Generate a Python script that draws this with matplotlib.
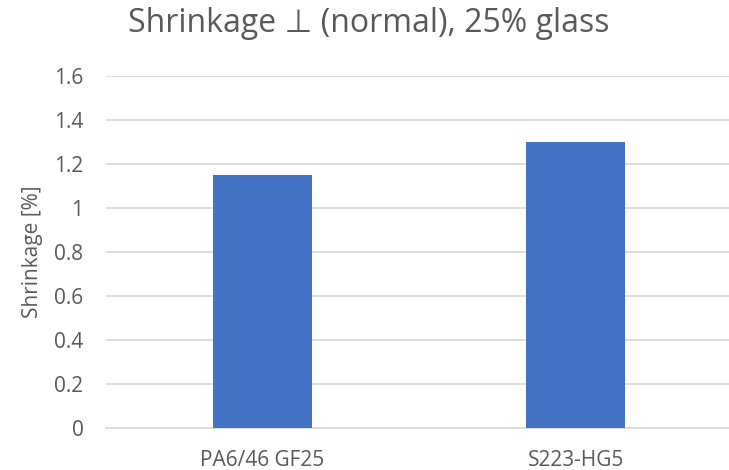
import matplotlib
matplotlib.use("Agg")
import matplotlib.pyplot as plt

categories = ["PA6/46 GF25", "S223-HG5"]
values = [1.15, 1.30]
yticks = [0, 0.2, 0.4, 0.6, 0.8, 1, 1.2, 1.4, 1.6]
ytick_labels = ["0", "0.2", "0.4", "0.6", "0.8", "1", "1.2", "1.4", "1.6"]

plt.rcParams['font.family'] = ['Open Sans', 'DejaVu Sans']

fig = plt.figure(figsize=(7.29, 4.70), dpi=100)
ax = fig.add_axes([0.145, 0.0894, 0.860, 0.7486])

x = list(range(len(categories)))
ax.bar(x, values, width=0.316, color="#4472C4", zorder=3)

ax.set_xlim(-0.5, 1.5)
ax.set_ylim(0, 1.6)
ax.set_yticks(yticks)
ax.set_yticklabels(ytick_labels)
ax.set_xticks(x)
ax.set_xticklabels(categories)

ax.grid(axis='y', color="#D9D9D9", linewidth=1.2, zorder=0)
for s in ["top", "right", "left"]:
    ax.spines[s].set_visible(False)
ax.spines["bottom"].set_color("#D9D9D9")
ax.spines["bottom"].set_linewidth(1.2)
ax.tick_params(axis='both', length=0, labelsize=15, colors="#595959")
ax.tick_params(axis='y', pad=16)
ax.tick_params(axis='x', pad=16)
ax.set_ylabel("Shrinkage [%]", fontsize=15, color="#595959")
ax.yaxis.set_label_coords(-0.100, 0.5)

fig.text(0.506, 0.932, "Shrinkage \u22a5 (normal), 25% glass", ha="center", va="baseline",
         fontsize=23, color="#595959")

fig.savefig("out.png", dpi=100)
